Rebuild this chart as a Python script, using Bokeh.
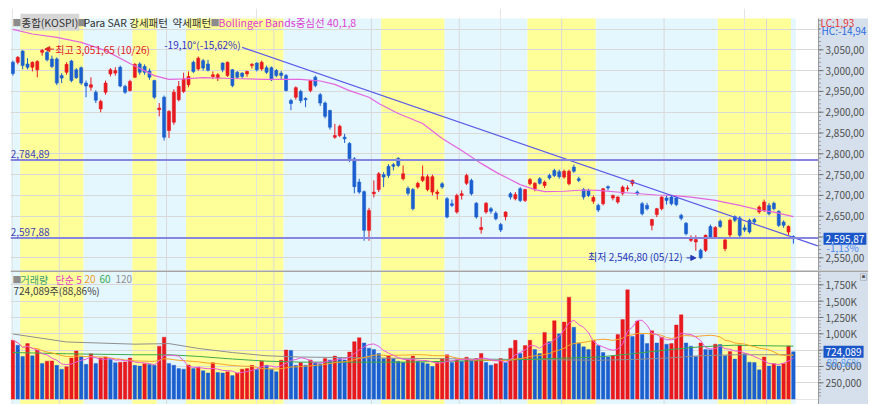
import pandas as pd
from bokeh.plotting import figure
from bokeh.models import (Range1d, FixedTicker, Grid, Label, Arrow, NormalHead,
                          Spacer, ColumnDataSource)
from bokeh.core.properties import value
from bokeh.layouts import column, row
from bokeh.embed import file_html
from bokeh.resources import INLINE

# ---------------- data (KOSPI daily) ----------------
opens = [3020, 3020, 3047, 3016, 3008, 3002, 3044, 3044, 3028, 3028,
         2988, 2996, 3023, 3002, 3007, 2970, 2960, 2948, 2908, 2948,
         2992, 2994, 3008, 2962, 2952, 2984, 3016, 3010, 2999, 2976,
         2906, 2936, 2856, 2876, 2930, 2950, 2966, 3020, 3004, 3024,
         3016, 2986, 2982, 3018, 2988, 3002, 2996, 2994, 2992, 3012,
         3018, 3004, 3007, 3007, 3000, 2994, 2988, 2928, 2936, 2950,
         2933, 2952, 2984, 2942, 2922, 2904, 2840, 2844, 2840, 2825,
         2788, 2732, 2709, 2616, 2704, 2714, 2750, 2770, 2774, 2789,
         2740, 2717, 2714, 2720, 2736, 2714, 2708, 2704, 2728, 2692,
         2680, 2660, 2700, 2729, 2736, 2681, 2618, 2660, 2668, 2657,
         2630, 2649, 2704, 2692, 2716, 2688, 2728, 2716, 2740, 2724,
         2748, 2760, 2757, 2744, 2728, 2768, 2740, 2714, 2712, 2686,
         2676, 2680, 2721, 2694, 2684, 2705, 2716, 2728, 2708, 2680,
         2676, 2628, 2654, 2668, 2694, 2696, 2694, 2652, 2633, 2592,
         2588, 2568, 2568, 2625, 2600, 2638, 2572, 2605, 2649, 2646,
         2622, 2640, 2642, 2660, 2664, 2676, 2681, 2662, 2636, 2612,
         2601]
highs = [3024, 3035, 3049, 3030, 3022, 3025, 3051.65, 3047, 3036, 3032,
         2994, 3020, 3026, 3006, 3010, 2976, 2984, 2953, 2930, 2976,
         3006, 3008, 3012, 2966, 2978, 3018, 3020, 3015, 3005, 2978,
         2922, 2940, 2905, 2955, 2975, 2995, 2998, 3024, 3034, 3028,
         3026, 2998, 2994, 3020, 3022, 3004, 2999, 2996, 3000, 3018,
         3020, 3024, 3012, 3010, 3004, 2999, 2992, 2932, 2962, 2954,
         2936, 2978, 2988, 2946, 2926, 2906, 2872, 2870, 2848, 2828,
         2792, 2740, 2712, 2670, 2736, 2756, 2756, 2775, 2778, 2792,
         2772, 2722, 2718, 2733, 2772, 2750, 2750, 2714, 2732, 2696,
         2690, 2704, 2712, 2752, 2740, 2684, 2648, 2684, 2672, 2662,
         2634, 2662, 2708, 2708, 2720, 2716, 2742, 2732, 2744, 2736,
         2752, 2764, 2762, 2762, 2762, 2774, 2745, 2718, 2716, 2700,
         2680, 2718, 2724, 2702, 2698, 2724, 2724, 2738, 2712, 2684,
         2682, 2644, 2670, 2698, 2700, 2700, 2698, 2656, 2636, 2604,
         2604, 2572, 2606, 2630, 2626, 2642, 2596, 2644, 2652, 2650,
         2630, 2644, 2646, 2676, 2690, 2682, 2685, 2664, 2640, 2628,
         2604]
lows = [2988, 3015, 3003, 3003, 2998, 2984, 3036, 3022, 3006, 2965,
        2970, 2990, 2972, 2980, 2966, 2936, 2952, 2922, 2900, 2942,
        2986, 2988, 2960, 2944, 2950, 2982, 2990, 2990, 2978, 2932,
        2890, 2832, 2838, 2870, 2926, 2946, 2960, 2994, 3000, 3000,
        2998, 2980, 2975, 2996, 2985, 2960, 2980, 2980, 2985, 3005,
        2998, 3000, 2992, 2975, 2984, 2980, 2950, 2905, 2930, 2922,
        2912, 2948, 2960, 2915, 2885, 2858, 2836, 2840, 2826, 2780,
        2705, 2704, 2591, 2591, 2695, 2708, 2720, 2742, 2760, 2768,
        2736, 2700, 2664, 2716, 2732, 2710, 2700, 2690, 2716, 2645,
        2672, 2656, 2690, 2725, 2700, 2644, 2608, 2656, 2656, 2640,
        2612, 2640, 2690, 2688, 2684, 2684, 2724, 2710, 2726, 2718,
        2738, 2744, 2740, 2740, 2724, 2754, 2732, 2690, 2696, 2680,
        2660, 2676, 2712, 2688, 2680, 2700, 2710, 2722, 2700, 2652,
        2664, 2616, 2648, 2664, 2678, 2676, 2674, 2640, 2604, 2588,
        2567, 2546.8, 2564, 2596, 2596, 2622, 2566, 2600, 2636, 2600,
        2612, 2608, 2630, 2656, 2660, 2652, 2664, 2624, 2622, 2605,
        2584]
closes = [2993, 3032, 3012, 3008, 3020, 3022, 3049, 3026, 3010, 2970,
          2982, 3015, 2976, 2983, 2970, 2963, 2966, 2929, 2926, 2970,
          3002, 3000, 2963, 2948, 2974, 3015, 2996, 2996, 2984, 2936,
          2910, 2840, 2902, 2948, 2962, 2980, 2986, 2998, 3030, 3006,
          3001, 2990, 2990, 3002, 3020, 2964, 2984, 2986, 2998, 3015,
          3002, 3020, 2996, 2978, 2988, 2988, 2952, 2921, 2959, 2928,
          2930, 2976, 2964, 2922, 2890, 2864, 2844, 2866, 2836, 2788,
          2721, 2708, 2616, 2664, 2708, 2752, 2744, 2748, 2770, 2772,
          2752, 2705, 2668, 2729, 2745, 2745, 2745, 2708, 2720, 2648,
          2676, 2700, 2704, 2748, 2704, 2648, 2623, 2681, 2662, 2644,
          2617, 2660, 2696, 2702, 2688, 2714, 2738, 2729, 2729, 2732,
          2742, 2748, 2745, 2758, 2758, 2758, 2736, 2696, 2700, 2695,
          2665, 2716, 2718, 2700, 2696, 2720, 2718, 2736, 2704, 2656,
          2668, 2642, 2668, 2696, 2688, 2680, 2678, 2645, 2608, 2597,
          2594, 2550, 2604, 2600, 2623, 2625, 2593, 2640, 2640, 2604,
          2617, 2612, 2636, 2672, 2684, 2656, 2668, 2628, 2628, 2625.44,
          2595.87]
vol_k = [900, 826, 654, 850, 664, 753, 547, 581, 585, 517,
         459, 497, 629, 738, 654, 532, 694, 547, 629, 644,
         606, 556, 565, 570, 629, 517, 507, 542, 530, 520,
         811, 948, 547, 517, 467, 459, 522, 467, 492, 434,
         400, 556, 409, 400, 419, 360, 400, 459, 467, 517,
         459, 581, 517, 459, 419, 595, 753, 745, 517, 560,
         520, 600, 560, 540, 620, 600, 660, 620, 600, 720,
         880, 940, 860, 780, 760, 700, 620, 660, 620, 580,
         560, 600, 660, 580, 560, 540, 500, 560, 620, 680,
         560, 600, 580, 640, 600, 620, 700, 560, 520, 540,
         620, 560, 780, 900, 700, 820, 900, 760, 700, 1020,
         880, 1200, 1000, 1180, 1560, 1100, 860, 800, 760, 900,
         820, 713, 644, 664, 988, 1217, 1673, 958, 1194, 988,
         850, 1047, 860, 948, 841, 850, 1135, 1291, 860, 811,
         654, 860, 761, 755, 841, 835, 664, 728, 614, 826,
         694, 566, 560, 448, 644, 507, 541, 507, 547, 814.865,
         724.089]

hi_date = "10/26"
lo_date = "05/12"
month_starts = [10, 32, 54, 74, 92, 113, 134, 155]
sar_start = [0, 2, 15, 25, 30, 36, 56, 76, 89, 106, 120, 145, 160]
sar_bull = [0, 1, 0, 1, 0, 1, 0, 1, 0, 1, 0, 1, 0]

bb_idx = [0, 4, 9, 14, 19, 24, 29, 32, 35, 39, 45, 52, 59, 63, 66, 69, 73, 75, 79, 84,
          88, 92, 96, 99, 104, 107, 109, 113, 117, 120, 125, 132, 135, 139, 144, 149, 153, 156, 160]
bb_mid = [3099, 3088, 3080, 3068, 3048, 3017, 2988, 2979, 2980, 2983, 2981, 2979, 2979, 2975,
          2967, 2952, 2936, 2921, 2897, 2873, 2837, 2808, 2777, 2756, 2726, 2714, 2709, 2710,
          2713, 2712, 2707, 2701, 2700, 2696, 2688, 2676, 2665, 2660, 2649]

ma60_idx = [0, 11, 25, 32, 38, 45, 52, 59, 80, 100, 120, 127, 134, 141, 148, 155, 160]
ma60_k = [713, 694, 679, 679, 654, 614, 581, 566, 566, 595, 644, 694, 753, 801, 826, 816, 811]
ma120_idx = [0, 11, 25, 32, 38, 45, 52, 59, 80, 100, 120, 127, 134, 141, 148, 155, 160]
ma120_k = [997, 875, 841, 850, 776, 713, 664, 644, 625, 610, 595, 606, 629, 664, 679, 679, 679]

trend_idx = [47, 165]
trend_val = [3056.0, 2578.7]
trend_angle = -19.10
support_levels = [2784.89, 2597.88]

price_ticks = [2550, 2600, 2650, 2700, 2750, 2800, 2850, 2900, 2950, 3000, 3050, 3100]
vol_ticks = [250000, 500000, 750000, 1000000, 1250000, 1500000, 1750000]

# ---------------- styles / geometry ----------------
FONT = "Noto Sans CJK KR"
PANEL = "#D6E0EC"
RED = "#E8191E"
BLUE = "#1B5FCF"
YEL = "#FFFF99"
LBLUE = "#E4F6FE"
GRID = "#D9D9D9"
AXC = "#9A9A9A"

FW = 858                       # frame width incl. scale panel (px)
X0, AX = -0.49, 165.15         # left edge, position of the scale line
PXU = (AX - X0) / 808          # data units per pixel
X1 = X0 + FW * PXU
PH = 262
PY0, PY1 = 2519.5, 3149.3
BAND_TOP = 3125.3
VH = 134
VY0, VY1 = -82500, 1969000


def kfmt(v):
    return f"{v:,.2f}".replace(".", ",")


def pfmt(v):
    return f"{v:.2f}".replace(".", ",")


def vfmt(t):
    return f"{t // 1000:,}K" if t >= 1000000 else f"{t:,}"


n = len(closes)
idx = list(range(n))
vol = [v * 1000 for v in vol_k]

hi = max(highs)
hi_i = highs.index(hi)
lo = min(lows)
lo_i = lows.index(lo)
last = closes[-1]
chg = (last / closes[-2] - 1) * 100
lc = (last / lo - 1) * 100
hc = (last / hi - 1) * 100
vratio = vol[-1] / vol[-2] * 100
tpct = (trend_val[1] / trend_val[0] - 1) * 100

sar_end = [s - 1 for s in sar_start[1:]] + [n - 1]
band_left = [s - 0.5 for s in sar_start]
band_right = [e + 0.5 for e in sar_end]
band_color = [YEL if b else LBLUE for b in sar_bull]
month_x = [m - 0.5 for m in month_starts]


def lab(fig, text, x, y, color, size="10px", xu="data", align="left",
        baseline="middle", bg=None, pad=0):
    kw = {}
    if bg is not None:
        kw["background_fill_color"] = bg
        kw["padding"] = pad
    fig.add_layout(Label(x=x, y=y, x_units=xu, y_units="data", text=text,
                         text_color=color, text_font=FONT, text_font_size=size,
                         text_align=align, text_baseline=baseline, **kw))


def base_fig(h, y0, y1, ticks):
    f = figure(frame_width=FW, frame_height=h, x_range=Range1d(X0, X1),
               y_range=Range1d(y0, y1), x_axis_location=None, y_axis_location=None,
               toolbar_location=None, output_backend="svg", min_border=0,
               background_fill_color="white", border_fill_color="white",
               outline_line_color=None)
    f.add_layout(Grid(dimension=1, ticker=FixedTicker(ticks=ticks), grid_line_color=GRID))
    return f


def draw_scale(f, y0, y1, ticks, labels, minor):
    f.quad(left=[AX], right=[X1], bottom=[y0], top=[y1], fill_color=PANEL, line_color=None)
    f.segment(x0=[AX], y0=[y0], x1=[AX], y1=[y1], line_color=AXC, line_width=1)
    f.segment(x0=[AX] * len(minor), y0=minor, x1=[AX + 2.5 * PXU] * len(minor), y1=minor,
              line_color=AXC, line_width=1)
    f.segment(x0=[AX] * len(ticks), y0=ticks, x1=[AX + 5 * PXU] * len(ticks), y1=ticks,
              line_color="#707070", line_width=1)
    f.text(x=[AX + 7 * PXU] * len(ticks), y=ticks, text=labels, text_font=value(FONT),
           text_font_size="10px", text_color="#505050", text_align="left",
           text_baseline="middle")


# ---------------- price panel ----------------
p = base_fig(PH, PY0, PY1, price_ticks)
p.quad(left=band_left, right=band_right, bottom=PY0, top=BAND_TOP, fill_color=band_color,
       line_color=None, level="image")
p.segment(x0=month_x, y0=PY0, x1=month_x, y1=BAND_TOP, line_color=GRID, line_width=1,
          level="underlay")

ccol = [RED if c >= o else BLUE for o, c in zip(opens, closes)]
src = ColumnDataSource(dict(x=idx, o=opens, h=highs, l=lows, c=closes, col=ccol,
                            top=[max(a, b) for a, b in zip(opens, closes)],
                            bot=[min(a, b) for a, b in zip(opens, closes)]))
p.segment(x0="x", y0="h", x1="x", y1="l", color="col", line_width=1, source=src)
p.vbar(x="x", width=0.62, top="top", bottom="bot", fill_color="col", line_color="col",
       line_width=0.6, source=src)

p.line(bb_idx, bb_mid, line_color="#E466DE", line_width=1.2)
p.line(trend_idx, trend_val, line_color="#5A5AE6", line_width=1.2)
p.segment(x0=[X0] * len(support_levels), y0=support_levels, x1=[AX] * len(support_levels),
          y1=support_levels, line_color="#8686DE", line_width=2)
for lv in support_levels:
    lab(p, kfmt(lv), -0.45, lv + 5, "#4444B4", baseline="bottom")

draw_scale(p, PY0, BAND_TOP, price_ticks, [kfmt(t) for t in price_ticks],
           list(range(2520, 3121, 10)))

# high / low annotations
lab(p, f"최고 {kfmt(hi)} ({hi_date})", hi_i + 2.7, hi, "#E02020")
p.add_layout(Arrow(end=NormalHead(size=5, fill_color="#E02020", line_color="#E02020"),
                   x_start=hi_i + 2.4, y_start=hi, x_end=hi_i + 0.55, y_end=hi,
                   line_color="#E02020", line_width=1))
lab(p, f"최저 {kfmt(lo)} ({lo_date})", lo_i - 3.7, lo + 6, "#2438B8", align="right")
p.add_layout(Arrow(end=NormalHead(size=5, fill_color="#2438B8", line_color="#2438B8"),
                   x_start=lo_i - 2.9, y_start=lo + 3, x_end=lo_i - 1.0, y_end=lo + 3,
                   line_color="#2438B8", line_width=1))
lab(p, f"{pfmt(trend_angle)}°({pfmt(tpct)}%)", trend_idx[0] - 0.3, trend_val[0] + 6,
    "#3535C0", align="right")

# legend row
ly = 3116
lab(p, "■", 2, ly, "#8C8C8C", size="9px", xu="screen")
lab(p, "종합(KOSPI)", 10, ly, "#333333", size="10.5px", xu="screen", bg="#D6D6D6", pad=1)
lab(p, "■", 67, ly, "#8C8C8C", size="9px", xu="screen")
lab(p, "Para SAR 강세패턴", 73, ly, "#333333", size="10.5px", xu="screen")
lab(p, "약세패턴", 162, ly, "#333333", size="10.5px", xu="screen")
lab(p, "■", 200, ly, "#8C8C8C", size="9px", xu="screen")
lab(p, "Bollinger Bands중심선 40,1,8", 208, ly, "#E03CD0", size="10.5px", xu="screen")

# scale-panel labels
lab(p, f"HC:{pfmt(hc)}", AX + 2 * PXU, 3096, "#2A6AE0", bg=PANEL, pad=1)
lab(p, f"LC:{pfmt(lc)}", AX + 2 * PXU, 3115, "#E83030")
lab(p, kfmt(last), AX + 5 * PXU, last, "white", bg="#1A56C8", pad=2)
lab(p, f"{pfmt(chg)}%", AX + 8 * PXU, last - 22, "#4A8AF0")

# ---------------- volume panel ----------------
pv = base_fig(VH, VY0, VY1, vol_ticks)
pv.x_range = p.x_range
pv.quad(left=band_left, right=band_right, bottom=VY0, top=VY1, fill_color=band_color,
        line_color=None, level="image")
pv.segment(x0=month_x, y0=VY0, x1=month_x, y1=VY1, line_color=GRID, line_width=1,
           level="underlay")

vcol = [RED if i == 0 or vol[i] >= vol[i - 1] else BLUE for i in idx]
pv.vbar(x=idx, width=0.72, top=vol, bottom=0, fill_color=vcol, line_color=vcol, line_width=0.4)

vs = pd.Series(vol)
ma5 = vs.rolling(5, min_periods=1).mean()
ma20 = vs.rolling(20, min_periods=1).mean()
pv.line(ma120_idx, [v * 1000 for v in ma120_k], line_color="#8F8F8F", line_width=1)
pv.line(ma60_idx, [v * 1000 for v in ma60_k], line_color="#3DAA4A", line_width=1)
pv.line(idx, list(ma20), line_color="#F4A425", line_width=1)
pv.line(idx, list(ma5), line_color="#E85AD8", line_width=1)

draw_scale(pv, VY0, VY1, vol_ticks, [vfmt(t) for t in vol_ticks],
           list(range(50000, 1950001, 50000)))
pv.segment(x0=[X0], y0=[VY1], x1=[X1], y1=[VY1], line_color="#A4A4A4", line_width=3)

vy = 1834000
lab(pv, "■", 2, vy, "#8C8C8C", size="9px", xu="screen")
lab(pv, "거래량", 10, vy, "#3C9E6E", xu="screen")
lab(pv, "단순 5", 45, vy, "#E040C0", xu="screen")
lab(pv, "20", 74, vy, "#F0A020", xu="screen")
lab(pv, "60", 89, vy, "#3AAA50", xu="screen")
lab(pv, "120", 105, vy, "#909090", xu="screen")
lab(pv, f"{round(vol[-1]):,}주({pfmt(vratio)}%)", 3, 1662000, "#404040", xu="screen")

lab(pv, f"{round(vol[-1]):,}", AX + 5 * PXU, vol[-1], "white", bg="#1A56C8", pad=2)
lab(pv, f"{pfmt(vratio)}%", AX + 8 * PXU, vol[-1] - 160000, "#5B9BF0")
lab(pv, "▣", AX + 41 * PXU, 1880000, "#555555", size="8px")

layout = column(Spacer(width=10, height=8),
                row(Spacer(width=10, height=10), column(p, pv)))

open("out.html", "w").write(file_html(layout, INLINE))
